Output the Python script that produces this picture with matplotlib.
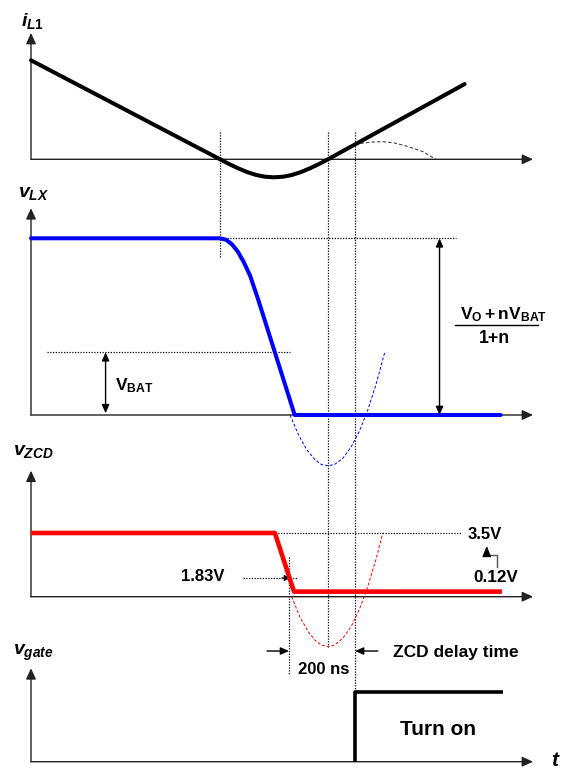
import matplotlib
matplotlib.use('Agg')
import matplotlib.pyplot as plt

plt.rcParams['font.family'] = ['Liberation Sans', 'DejaVu Sans']
plt.rcParams['font.weight'] = 'bold'
plt.rcParams['mathtext.fontset'] = 'custom'
plt.rcParams['mathtext.rm'] = 'Liberation Sans:bold'
plt.rcParams['mathtext.it'] = 'Liberation Sans:italic:bold'
plt.rcParams['mathtext.bf'] = 'Liberation Sans:bold'

# ---- waveforms (time in ns, levels normalised per panel) ----
il1_t = [0, 573, 600, 627, 655, 682, 709, 736, 764, 791, 818, 846, 873, 900, 1314]
il1_v = [1.0, 0.0, -0.047, -0.090, -0.129, -0.158, -0.176, -0.182, -0.176,
         -0.158, -0.129, -0.090, -0.047, 0.0, 0.76]
il1_ring_t = [982, 1010, 1040, 1067, 1100, 1137, 1188, 1227]
il1_ring_v = [0.150, 0.166, 0.176, 0.178, 0.166, 0.134, 0.077, 0.0]

vlx_t = [0, 573, 591, 609, 627, 645, 664, 688, 739, 799, 1423]
vlx_v = [1.0, 1.0, 0.992, 0.966, 0.924, 0.864, 0.788, 0.656, 0.355, 0.0, 0.0]
vlx_ring_t = [785, 810, 835, 860, 880, 900, 920, 945, 970, 995, 1020, 1045, 1072]
vlx_ring_v = [0.0, -0.11, -0.195, -0.252, -0.280, -0.287, -0.280, -0.245,
              -0.181, -0.092, 0.025, 0.170, 0.355]
vbat = 0.355

zcd_t = [0, 739, 797, 1427]
zcd_v = [1.0, 1.0, 0.08, 0.08]
zcd_ring_t = [790, 815, 840, 860, 880, 900, 920, 945, 970, 995, 1020, 1045, 1066]
zcd_ring_v = [0.0, -0.32, -0.55, -0.68, -0.76, -0.785, -0.76, -0.65, -0.47,
              -0.20, 0.15, 0.58, 1.0]
zcd_thr = 0.294      # where the 1.83V mark sits

gate_t = [982, 982, 1430]
gate_v = [0, 1, 1]

t_knee = 573    # i_L1 crosses zero, LX starts to fall
t_zero = 900    # i_L1 back to zero
t_det = 782     # ZCD comparator trips
t_on = 982      # gate turns on (200 ns later)

labels = [r'$\mathit{i_{L1}}$', r'$\mathit{v_{LX}}$', r'$\mathit{v_{ZCD}}$', r'$\mathit{v_{gate}}$']

# ---- layout (pixels of the 563x769 picture) ----
W, H = 563.0, 769.0
x0 = 31.0
ns_px = 200 / 66.0
t_end = (533 - x0) * ns_px
# top, bottom, baseline, px per unit, y-arrow top
panels = [(0, 185, 159.3, 99.0, 1.276),
          (185, 445, 415.0, 176.7, 1.170),
          (445, 640, 596.7, 63.7, 1.978),
          (640, 769, 761.7, 70.0, 1.334)]

fig = plt.figure(figsize=(W / 100, H / 100), dpi=100)
axes = []
for top, bot, base, sc, ytop in panels:
    ax = fig.add_axes([0, 1 - bot / H, 1, (bot - top) / H])
    ax.set_xlim(-x0 * ns_px, (W - x0) * ns_px)
    ax.set_ylim((base - bot) / sc, (base - top) / sc)
    ax.axis('off')
    kw = dict(arrowstyle='-|>,head_length=0.65,head_width=0.3', color='#222',
              lw=1.0, shrinkA=0, shrinkB=0, mutation_scale=10)
    ax.annotate('', xy=(t_end, 0), xytext=(0, 0), arrowprops=kw, annotation_clip=False)
    ax.annotate('', xy=(0, ytop), xytext=(0, 0), arrowprops=kw, annotation_clip=False)
    axes.append(ax)
ax1, ax2, ax3, ax4 = axes

dot = dict(color='k', lw=0.9, ls=(0, (1, 1.2)))
small2 = dict(arrowstyle='<|-|>,head_length=0.5,head_width=0.22', color='k',
              lw=1.0, shrinkA=0, shrinkB=0, mutation_scale=10)
small1 = dict(arrowstyle='-|>,head_length=0.5,head_width=0.22', color='k',
              lw=1.0, shrinkA=0, shrinkB=0, mutation_scale=10)

# vertical guide lines running through the panels
def vguide(t, axA, yA, axB, yB):
    _, yd = axB.transData.transform((t, yB))
    _, yB_in_A = axA.transData.inverted().transform((0, yd))
    axA.plot([t, t], [yA, yB_in_A], clip_on=False, zorder=1, **dot)

vguide(t_knee, ax1, 0.276, ax2, 0.887)
vguide(t_zero, ax1, 0.276, ax3, -0.785)
vguide(t_on, ax1, 0.276, ax4, 1.0)
vguide(t_det, ax3, 0.628, ax4, 1.239)

# panel 1: inductor current
ax1.plot(il1_t, il1_v, color='k', lw=2.9, solid_capstyle='round', zorder=3)
ax1.plot(il1_ring_t, il1_ring_v, color='#444', lw=0.8, ls=(0, (3, 2)), zorder=2)

# panel 2: LX voltage
ax2.plot([593, 1287], [1.0, 1.0], **dot)
ax2.plot([48, 786], [vbat, vbat], **dot)
ax2.plot(vlx_t, vlx_v, color='#0000ff', lw=2.9, solid_capstyle='round', zorder=3)
ax2.plot(vlx_ring_t, vlx_ring_v, color='#0000ff', lw=0.7, ls=(0, (3, 2)), clip_on=False, zorder=2)
ax2.annotate('', xy=(226, vbat), xytext=(226, 0.01), arrowprops=small2, annotation_clip=False)
ax2.annotate('', xy=(1238, 1.0), xytext=(1238, 0.0), arrowprops=small2, annotation_clip=False)
ax2.text(255, 0.141, r'$\mathbf{V_{BAT}}$', fontsize=12.5, va='baseline', ha='left')
ax2.text(1299, 0.539, r'$\mathbf{V_O + nV_{BAT}}$', fontsize=12.5, va='baseline', ha='left')
ax2.plot([1284, 1536], [0.512, 0.512], color='k', lw=1.0, clip_on=False)
ax2.text(1405, 0.409, '1+n', fontsize=12.8, va='baseline', ha='center')

# panel 3: ZCD voltage
ax3.plot([739, 1305], [1.0, 1.0], **dot)
ax3.plot([641, 809], [zcd_thr, zcd_thr], **dot)
ax3.annotate('', xy=(786, zcd_thr), xytext=(760, zcd_thr),
             arrowprops=dict(arrowstyle='-|>,head_length=0.5,head_width=0.25', color='k',
                             lw=0.8, shrinkA=0, shrinkB=0, mutation_scale=7))
ax3.plot(zcd_t, zcd_v, color='#ff0000', lw=3.3, solid_capstyle='butt', zorder=3)
ax3.plot(zcd_ring_t, zcd_ring_v, color='#ff0000', lw=0.7, ls=(0, (3, 2)), clip_on=False, zorder=2)
ax3.text(1375, 0.984, '3.5V', fontsize=12, va='center', ha='center')
ax3.text(1407, 0.30, '0.12V', fontsize=12.3, va='center', ha='center')
ax3.text(521, 0.314, '1.83V', fontsize=12, va='center', ha='center')
ax3.annotate('', xy=(1381, 0.796), xytext=(1381, 0.654),
             arrowprops=dict(arrowstyle='-|>,head_length=1.1,head_width=0.45', color='k',
                             lw=0.8, shrinkA=0, shrinkB=0, mutation_scale=6))
ax3.plot([1381, 1411, 1411], [0.654, 0.654, 0.471], color='#555', lw=1.0)

# panel 4: gate drive
ax4.plot(gate_t, gate_v, color='k', lw=2.6, solid_capstyle='butt', zorder=3)
ax4.annotate('', xy=(t_det, 1.581), xytext=(715, 1.581), arrowprops=small1, annotation_clip=False)
ax4.annotate('', xy=(t_on, 1.581), xytext=(1051, 1.581), arrowprops=small1, annotation_clip=False)
ax4.text(888, 1.31, '200 ns', fontsize=12, va='center', ha='center')
ax4.text(1097, 1.553, 'ZCD delay time', fontsize=12.5, va='center', ha='left')
ax4.text(1117, 0.467, 'Turn on', fontsize=15, va='center', ha='left')
ax4.text(1590, 0.02, r'$\mathit{t}$', fontsize=15, va='center', ha='center')

# signal names
ax1.text(-30, 1.397, labels[0], fontsize=14, va='center', ha='left')
ax2.text(-39, 1.256, labels[1], fontsize=14, va='center', ha='left')
ax3.text(-55, 2.276, labels[2], fontsize=14, va='center', ha='left')
ax4.text(-55, 1.549, labels[3], fontsize=14, va='center', ha='left')

fig.savefig('out.png', dpi=100)
